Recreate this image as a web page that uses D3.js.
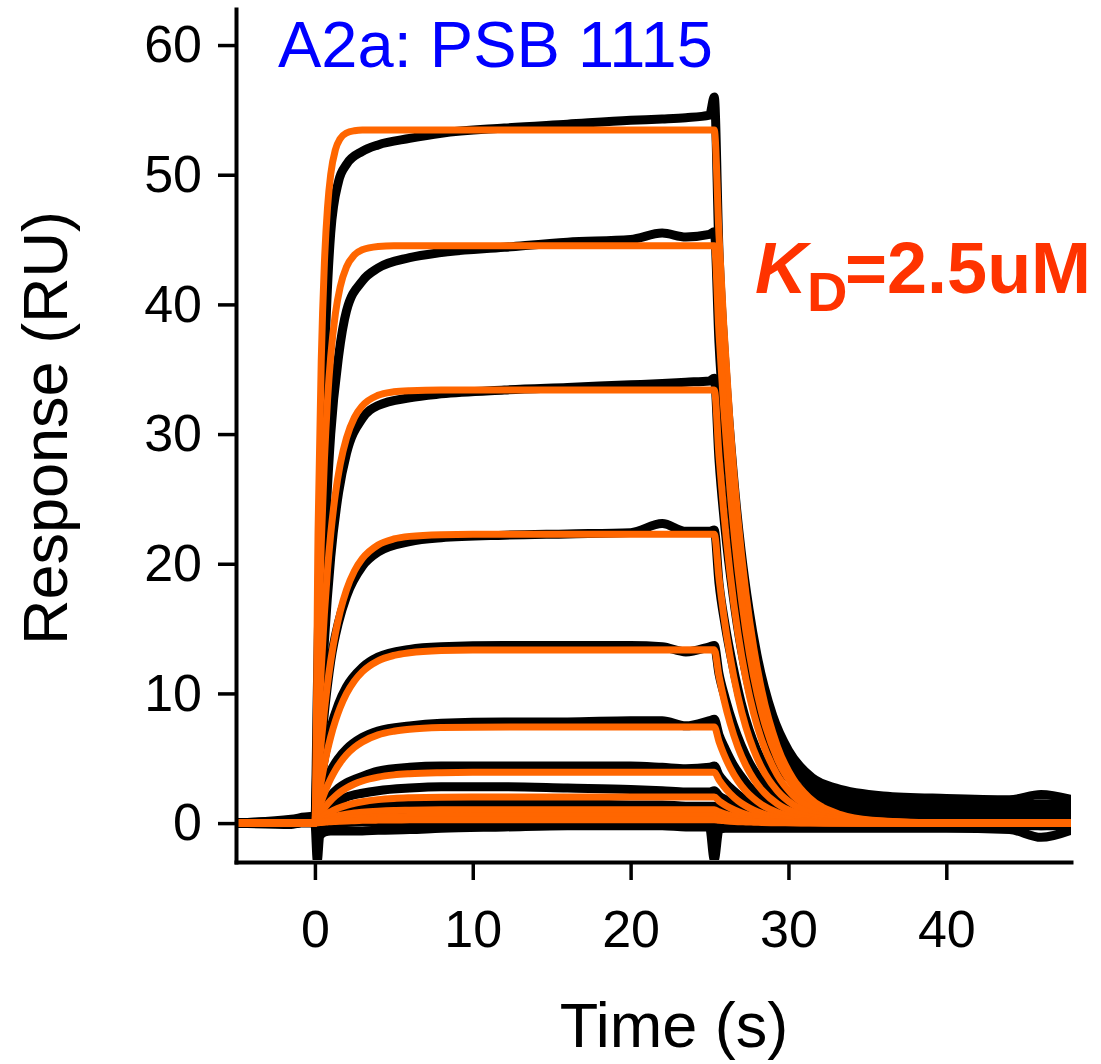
<!DOCTYPE html>
<html><head><meta charset="utf-8">
<script src="https://cdn.jsdelivr.net/npm/d3@7"></script>
<style>body{margin:0;background:#fff;} svg{display:block;}</style>
</head><body>
<svg id="chart" width="1101" height="1064"></svg>
<script>
// ---------- data ----------
const xTicks = [0, 10, 20, 30, 40];
const yTicks = [0, 10, 20, 30, 40, 50, 60];
const titleText = "A2a: PSB 1115";
const xLabel = "Time (s)";
const yLabel = "Response (RU)";

// fitted (orange) curves, shared time points
const fitTimes = [-5, 0, 0.2, 0.4, 0.6, 0.8, 1.0, 1.3, 1.6, 2, 2.5, 3, 4, 5, 6, 8, 10, 25.3,
  25.6, 25.9, 26.3, 26.8, 27.3, 27.8, 28.3, 29.3, 30.3, 31.3, 33.3, 35.3, 39.3, 48];
const fit1 = [0,0, 22.61,35.65,43.18,47.52,50.03,51.94,52.78,53.22,53.39,53.44,53.44,53.44,53.44,53.44,53.44, 53.44, 45.31,38.42,30.83,23.42,17.79,13.51,10.26,5.92,3.41,1.97,0.66,0.22,0.02,0];
const fit2 = [0,0, 12.52,21.51,27.98,32.64,35.98,39.32,41.35,42.89,43.81,44.21,44.47,44.53,44.53,44.53,44.53, 44.53, 37.76,32.01,25.69,19.51,14.82,11.26,8.55,4.93,2.85,1.64,0.55,0.18,0.02,0];
const fit3 = [0,0, 6.60,11.89,16.14,19.55,22.28,25.41,27.66,29.70,31.27,32.17,32.99,33.26,33.35,33.40,33.40, 33.40, 28.32,24.01,19.27,14.64,11.12,8.44,6.41,3.70,2.13,1.23,0.41,0.14,0.02,0];
const fit4 = [0,0, 3.39,6.26,8.69,10.76,12.51,14.65,16.32,17.99,19.44,20.39,21.45,21.91,22.11,22.24,22.27, 22.27, 18.88,16.01,12.85,9.76,7.41,5.63,4.28,2.47,1.42,0.82,0.27,0.09,0.01,0];
const fit5 = [0,0, 1.72,3.21,4.52,5.65,6.64,7.89,8.91,9.98,10.96,11.66,12.51,12.93,13.14,13.31,13.35, 13.36, 11.33,9.60,7.71,5.85,4.45,3.38,2.57,1.48,0.85,0.49,0.16,0.05,0.01,0];
const fit6 = [0,0, 0.86,1.63,2.30,2.90,3.42,4.10,4.66,5.27,5.84,6.26,6.80,7.08,7.24,7.37,7.40, 7.42, 6.29,5.33,4.28,3.25,2.47,1.88,1.42,0.82,0.47,0.27,0.09,0.03,0,0];
const fit7 = [0,0, 0.43,0.82,1.16,1.47,1.74,2.09,2.39,2.71,3.02,3.25,3.55,3.72,3.81,3.89,3.92, 3.93, 3.33,2.83,2.27,1.72,1.31,0.99,0.75,0.44,0.25,0.15,0.05,0.02,0,0];
const fit8 = [0,0, 0.22,0.41,0.58,0.74,0.87,1.05,1.20,1.37,1.53,1.65,1.81,1.90,1.95,2.00,2.01, 2.02, 1.71,1.45,1.17,0.89,0.67,0.51,0.39,0.22,0.13,0.07,0.02,0.01,0,0];
const fit9 = [0,0, 0.11,0.21,0.29,0.37,0.44,0.53,0.61,0.69,0.78,0.84,0.92,0.97,0.99,1.02,1.03, 1.03, 0.87,0.74,0.59,0.45,0.34,0.26,0.20,0.11,0.07,0.04,0.01,0,0,0];
const fit10 = [0,0, 0.05,0.10,0.15,0.19,0.22,0.27,0.31,0.35,0.39,0.42,0.46,0.49,0.50,0.51,0.52, 0.52, 0.44,0.37,0.30,0.23,0.17,0.13,0.10,0.06,0.03,0.02,0.01,0,0,0];
const fit11 = [0,0, 0.03,0.05,0.07,0.09,0.11,0.13,0.15,0.17,0.19,0.21,0.23,0.24,0.25,0.26,0.26, 0.26, 0.22,0.19,0.15,0.11,0.09,0.07,0.05,0.03,0.02,0.01,0,0,0,0];

// measured (black) sensorgrams, shared time points
const dataTimes = [-5, -1.5, -0.3, 0, 0.15, 0.3, 0.6, 1.0, 1.5, 2, 3, 4, 6, 8, 12, 16, 20, 22, 23.5, 25, 25.3,
  25.6, 26, 26.5, 27, 27.5, 28, 29, 30, 31.5, 33, 36, 40, 44, 46, 48];
const data1 = [0, 0.3, 0.5, 0.3, 10, 20, 35, 45.5, 49.5, 50.8, 51.8, 52.3, 52.8, 53.2, 53.6, 53.9, 54.2, 54.3, 54.4, 54.6, 56.0, 44, 35, 27, 21, 16.5, 13, 8.3, 5.6, 3.5, 2.7, 2.1, 1.9, 1.8, 2.2, 1.8];
const data2 = [0, 0.2, 0.4, 0.2, 6, 11, 21, 30, 36, 39.5, 41.8, 42.8, 43.6, 44.0, 44.4, 44.8, 45.0, 45.5, 45.2, 45.4, 45.6, 37, 30, 23, 17.5, 13.5, 10.5, 6.8, 4.6, 2.9, 2.2, 1.7, 1.5, 1.4, 1.5, 1.4];
const data3 = [0, 0.2, 0.3, 0.1, 3.5, 7, 14, 20.5, 25.5, 28.5, 31.2, 32.2, 32.8, 33.1, 33.4, 33.6, 33.8, 33.9, 34.0, 34.1, 34.3, 28, 22.5, 17.5, 13.5, 10.5, 8.2, 5.2, 3.5, 2.2, 1.6, 1.2, 1.0, 0.9, 1.0, 0.9];
const data4 = [0, 0.1, 0.3, 0.1, 2.5, 4.5, 8.5, 12.5, 15.5, 17.5, 19.8, 20.9, 21.7, 22.0, 22.2, 22.3, 22.4, 23.1, 22.5, 22.5, 22.6, 18.5, 15.2, 12, 9.3, 7.2, 5.6, 3.5, 2.3, 1.4, 1.0, 0.7, 0.6, 0.6, 0.6, 0.5];
const data5 = [0, 0.1, 0.2, 0.1, 1.5, 2.8, 5.0, 7.3, 9.2, 10.5, 12.0, 12.8, 13.4, 13.6, 13.7, 13.7, 13.7, 13.6, 13.2, 13.6, 13.7, 11.5, 9.6, 7.6, 6.0, 4.7, 3.7, 2.3, 1.5, 0.9, 0.6, 0.4, 0.4, 0.4, 0.4, 0.4];
const data6 = [0, 0.1, 0.2, 0, 0.8, 1.5, 2.7, 4.0, 5.0, 5.7, 6.6, 7.1, 7.5, 7.7, 7.8, 7.8, 7.9, 7.9, 7.5, 7.9, 8.0, 6.8, 5.7, 4.5, 3.6, 2.8, 2.2, 1.4, 0.9, 0.5, 0.3, 0.2, 0.2, 0.2, 0.2, 0.2];
const data7 = [0, 0.1, 0.2, 0, 0.4, 0.8, 1.4, 2.1, 2.7, 3.1, 3.6, 4.0, 4.3, 4.4, 4.4, 4.4, 4.4, 4.3, 4.2, 4.3, 4.4, 3.7, 3.1, 2.5, 2.0, 1.6, 1.2, 0.8, 0.5, 0.3, 0.2, 0.1, 0.1, 0.1, 0.1, 0.1];
const data8 = [0, 0, 0.1, 0, 0.3, 0.5, 0.9, 1.3, 1.7, 2.0, 2.3, 2.5, 2.7, 2.8, 2.8, 2.7, 2.6, 2.5, 2.4, 2.4, 2.5, 2.1, 1.8, 1.4, 1.1, 0.9, 0.7, 0.4, 0.3, 0.2, 0.1, 0, 0, 0, 0, 0];
const data9 = [0, 0, 0.1, 0, 0.2, 0.3, 0.5, 0.7, 0.9, 1.1, 1.3, 1.4, 1.5, 1.5, 1.5, 1.5, 1.4, 1.4, 1.3, 1.3, 1.3, 1.1, 0.9, 0.7, 0.6, 0.5, 0.4, 0.2, 0.1, 0, 0, 0, 0, 0, 0, 0];
const data10 = [0, 0, 0, 0, 0.1, 0.15, 0.25, 0.35, 0.45, 0.5, 0.55, 0.6, 0.6, 0.6, 0.6, 0.6, 0.6, 0.6, 0.6, 0.6, 0.6, 0.5, 0.4, 0.3, 0.25, 0.2, 0.15, 0.1, 0, -0.1, -0.1, -0.1, -0.2, -0.2, -0.2, -0.2];
const data11 = [0, 0, 0.1, 0, -0.6, -0.3, -0.15, -0.05, 0, 0.05, 0.1, 0.1, 0.1, 0.1, 0.1, 0.1, 0.1, 0.1, 0.1, 0.1, -0.6, 0, 0, 0, 0, 0, 0, 0, 0, 0, 0, 0, 0, 0, -0.2, 0];
const dataBlank = [0, -0.1, 0.2, 0, -2.9, -1.0, -0.7, -0.6, -0.6, -0.6, -0.6, -0.55, -0.5, -0.4, -0.3, -0.2, -0.2, -0.2, -0.3, -0.3, -2.8, -0.5, -0.4, -0.4, -0.4, -0.4, -0.4, -0.4, -0.4, -0.4, -0.4, -0.4, -0.4, -0.5, -1.1, -0.5];

const fitSeries = [fit1, fit2, fit3, fit4, fit5, fit6, fit7, fit8, fit9, fit10, fit11];
const dataSeries = [dataBlank, data11, data10, data9, data8, data7, data6, data5, data4, data3, data2, data1];

// ---------- drawing ----------
const svg = d3.select("#chart");
const FONT = "'Liberation Sans', Arial, Helvetica, sans-serif";

const x = d3.scaleLinear().domain([-5, 47.9]).range([236, 1071]);
const y = d3.scaleLinear().domain([-3, 62.78]).range([862, 9]);

svg.append("defs").append("clipPath").attr("id", "plotclip")
  .append("rect").attr("x", 238).attr("y", 0).attr("width", 1071 - 238).attr("height", 860);

const plot = svg.append("g").attr("clip-path", "url(#plotclip)");

const dataLine = d3.line().x(d => x(d[0])).y(d => y(d[1])).curve(d3.curveMonotoneX);

plot.selectAll("path.data").data(dataSeries).join("path")
  .attr("class", "data")
  .attr("d", s => dataLine(dataTimes.map((t, i) => [t, s[i]])))
  .attr("fill", "none").attr("stroke", "#000").attr("stroke-width", 9)
  .attr("stroke-linejoin", "round").attr("stroke-linecap", "round");

plot.selectAll("path.fit").data(fitSeries).join("path")
  .attr("class", "fit")
  .attr("d", s => dataLine(fitTimes.map((t, i) => [t, s[i]])))
  .attr("fill", "none").attr("stroke", "#ff6600").attr("stroke-width", 7)
  .attr("stroke-linejoin", "round");

// axes
const xAxis = d3.axisBottom(x).tickValues(xTicks).tickSize(18).tickPadding(30).tickSizeOuter(0);
const yAxis = d3.axisLeft(y).tickValues(yTicks).tickSize(18).tickPadding(16).tickSizeOuter(0);

const gx = svg.append("g").attr("transform", "translate(0,862)").call(xAxis);
const gy = svg.append("g").attr("transform", "translate(236,0)").call(yAxis);
[gx, gy].forEach(g => {
  g.select(".domain").attr("stroke", "#000").attr("stroke-width", 4).attr("stroke-linecap", "square");
  g.selectAll(".tick line").attr("stroke", "#000").attr("stroke-width", 3.5);
  g.selectAll(".tick text").attr("fill", "#000").style("font-family", FONT).style("font-size", "52px");
});

// axis titles
svg.append("text").attr("x", 674).attr("y", 1047).attr("text-anchor", "middle")
  .style("font-family", FONT).style("font-size", "63px").attr("fill", "#000").text(xLabel);
svg.append("text").attr("transform", "translate(67,428) rotate(-90)").attr("text-anchor", "middle")
  .style("font-family", FONT).style("font-size", "63px").attr("fill", "#000").text(yLabel);

// title
svg.append("text").attr("x", 278).attr("y", 67)
  .style("font-family", FONT).style("font-size", "65px").attr("fill", "#0000ff").text(titleText);

// KD annotation
const kd = svg.append("text").attr("y", 293).style("font-family", FONT).style("font-weight", "bold")
  .attr("fill", "#ff3300");
kd.append("tspan").attr("x", 755).style("font-style", "italic").style("font-size", "72px").text("K");
kd.append("tspan").attr("x", 807).attr("y", 311).style("font-size", "56px").text("D");
kd.append("tspan").attr("x", 845).attr("y", 293).style("font-size", "72px").text("=2.5uM");
</script>
</body></html>
